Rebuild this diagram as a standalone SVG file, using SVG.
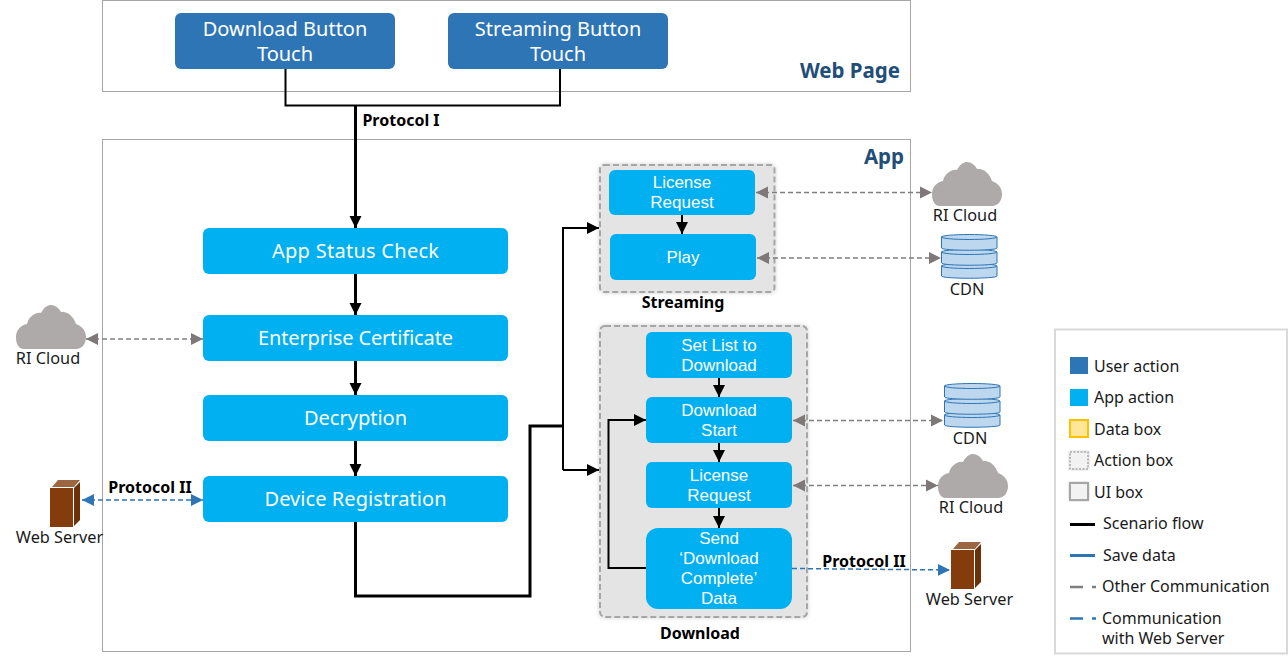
<svg xmlns="http://www.w3.org/2000/svg" width="1288" height="658" viewBox="0 0 1288 658">
<style>
text{font-family:"Noto Sans","Liberation Sans",sans-serif;text-anchor:middle}
.panel{fill:#fff;stroke:#a6a6a6;stroke-width:1}
.user{fill:#2e75b6}
.app{fill:#00b0f0}
.wt{fill:#fff;font-family:"Liberation Sans",sans-serif;font-size:17px}
.big{fill:#fff;font-size:20px}
.lab{fill:#1a1a1a;font-size:16.300px}
.bold{fill:#000;font-size:16px;font-weight:700}
.title{fill:#1f4e79;font-size:20.500px;font-weight:700}
.leg{fill:#1a1a1a;font-size:16px;text-anchor:start}
.group{fill:#e4e4e4;stroke:#a6a6a6;stroke-width:2;stroke-dasharray:6 3;filter:url(#sh)}
.flow{fill:none;stroke:#000;stroke-width:3}
.thin{fill:none;stroke:#000;stroke-width:2}
.other{fill:none;stroke:#7f7f7f;stroke-width:1.5;stroke-dasharray:5 3}
.web{fill:none;stroke:#2e75b6;stroke-width:1.5;stroke-dasharray:5 3}
</style>
<defs>
<filter id="sh" x="-10%" y="-10%" width="120%" height="120%"><feDropShadow dx="0" dy="0" stdDeviation="2" flood-color="#000" flood-opacity="0.2"/></filter>
<marker id="ab" markerUnits="userSpaceOnUse" markerWidth="14" markerHeight="14" refX="12" refY="7" orient="auto-start-reverse"><path d="M0 1L12 7L0 13Z" fill="#000"/></marker>
<marker id="as" markerUnits="userSpaceOnUse" markerWidth="14" markerHeight="14" refX="12" refY="7" orient="auto-start-reverse"><path d="M0 1L12 7L0 13Z" fill="#000"/></marker>
<marker id="ag" markerUnits="userSpaceOnUse" markerWidth="14" markerHeight="14" refX="12" refY="7" orient="auto-start-reverse"><path d="M0 1L12 7L0 13Z" fill="#7f7878"/></marker>
<marker id="abl" markerUnits="userSpaceOnUse" markerWidth="14" markerHeight="14" refX="12" refY="7" orient="auto-start-reverse"><path d="M0 1L12 7L0 13Z" fill="#2e75b6"/></marker>
<g id="cloud"><path fill="#aeaaaa" d="M8 44C2 44 0 38 0 32C0 25 5 20 11 19C13 11 20 7 25 8C28 2 32 0 35 0C39 0 43 3 45 7C52 6 58 12 60 19C66 21 70 26 70 32C70 39 66 44 60 44Z"/></g>
<g id="cdn" fill="#bdd7ee" stroke="#2e75b6" stroke-width="1">
<path d="M0.500 32V42C0.500 45 56 45 56 42V32Z"/><ellipse cx="28.200" cy="32" rx="27.800" ry="2.500"/>
<path d="M0.500 18V29C0.500 32 56 32 56 29V18Z"/><ellipse cx="28.200" cy="18" rx="27.800" ry="2.500"/>
<path d="M0.500 3V14C0.500 17 56 17 56 14V3Z"/><ellipse cx="28.200" cy="3" rx="27.800" ry="2.500"/>
</g>
<g id="server"><path fill="#843c0c" d="M0 8H23V47H0Z"/><path fill="#9c6640" d="M2 7L8 0H30L24 7Z"/><path fill="#6b3108" d="M24 8L30 2V40L24 46Z"/></g>
</defs>

<g id="web-page"><rect class="panel" x="102.500" y="0.500" width="808" height="91"/><text class="title" x="850" y="78">Web Page</text></g>
<g id="app-panel"><rect class="panel" x="102.500" y="139.500" width="808" height="512"/><text class="title" x="884" y="164">App</text></g>

<g id="btn-download"><rect class="user" x="175" y="13" width="220" height="56" rx="6"/><text class="big" y="36"><tspan x="285">Download Button</tspan><tspan x="285" dy="25">Touch</tspan></text></g>
<g id="btn-streaming"><rect class="user" x="448" y="13" width="220" height="56" rx="6"/><text class="big" y="36"><tspan x="558">Streaming Button</tspan><tspan x="558" dy="25">Touch</tspan></text></g>

<g id="streaming-group"><rect class="group" x="600" y="165" width="174.500" height="127" rx="4"/><text class="bold" x="683" y="308">Streaming</text></g>
<g id="download-group"><rect class="group" x="600" y="326" width="207" height="291" rx="5"/><text class="bold" x="700" y="639">Download</text></g>

<g id="connectors">
<path class="thin" d="M285.500 69V105.500H560V69"/>
<path class="flow" marker-end="url(#ab)" d="M355.500 105V228"/>
<path class="flow" marker-end="url(#ab)" d="M355.500 274V315"/>
<path class="flow" marker-end="url(#ab)" d="M355.500 361V395"/>
<path class="flow" marker-end="url(#ab)" d="M355.500 441V476"/>
<path class="flow" d="M355.500 522V596H530V426H563"/>
<path class="thin" marker-end="url(#as)" d="M563 470V228H599"/>
<path class="thin" marker-end="url(#as)" d="M563 470H599"/>
<path class="thin" marker-end="url(#as)" d="M682 215V234"/>
<path class="thin" marker-end="url(#as)" d="M719 378V397"/>
<path class="thin" marker-end="url(#as)" d="M719 443V462"/>
<path class="thin" marker-end="url(#as)" d="M719 508V528"/>
<path class="thin" marker-end="url(#as)" d="M646 568H608.500V420H646"/>
<path class="other" marker-start="url(#ag)" marker-end="url(#ag)" d="M756 192.500H932"/>
<path class="other" marker-start="url(#ag)" marker-end="url(#ag)" d="M757 258H941"/>
<path class="other" marker-start="url(#ag)" marker-end="url(#ag)" d="M793 420.500H943"/>
<path class="other" marker-start="url(#ag)" marker-end="url(#ag)" d="M793 485.500H938"/>
<path class="other" marker-start="url(#ag)" marker-end="url(#ag)" d="M86 339H203"/>
<path class="web" marker-start="url(#abl)" marker-end="url(#abl)" d="M82 500H203"/>
<path class="web" marker-end="url(#abl)" d="M792 568.500L950 570"/>
</g>
<text class="bold" x="401" y="126">Protocol I</text>
<text class="bold" x="150" y="493">Protocol II</text>
<text class="bold" x="864" y="567">Protocol II</text>

<g id="app-status"><rect class="app" x="203" y="228" width="305" height="46" rx="6"/><text class="big" x="355.500" y="258" textLength="167">App Status Check</text></g>
<g id="enterprise"><rect class="app" x="203" y="315" width="305" height="46" rx="6"/><text class="big" x="355.500" y="345" textLength="195">Enterprise Certificate</text></g>
<g id="decryption"><rect class="app" x="203" y="395" width="305" height="46" rx="6"/><text class="big" x="355.500" y="425">Decryption</text></g>
<g id="device-reg"><rect class="app" x="203" y="476" width="305" height="46" rx="6"/><text class="big" x="355.500" y="506" textLength="182">Device Registration</text></g>

<g id="s-license"><rect class="app" x="609" y="170" width="146" height="45" rx="6"/><text class="wt" y="188"><tspan x="682">License</tspan><tspan x="682" dy="20">Request</tspan></text></g>
<g id="s-play"><rect class="app" x="610" y="234" width="146" height="46" rx="6"/><text class="wt" x="683" y="263">Play</text></g>
<g id="d-setlist"><rect class="app" x="646" y="332" width="146" height="46" rx="6"/><text class="wt" y="351"><tspan x="719">Set List to</tspan><tspan x="719" dy="20">Download</tspan></text></g>
<g id="d-start"><rect class="app" x="646" y="397" width="146" height="46" rx="6"/><text class="wt" y="416"><tspan x="719">Download</tspan><tspan x="719" dy="20">Start</tspan></text></g>
<g id="d-license"><rect class="app" x="646" y="462" width="146" height="46" rx="6"/><text class="wt" y="481"><tspan x="719">License</tspan><tspan x="719" dy="20">Request</tspan></text></g>
<g id="d-send"><rect class="app" x="646" y="528" width="146" height="81" rx="12"/><text class="wt" y="544"><tspan x="719">Send</tspan><tspan x="719" dy="20">‘Download</tspan><tspan x="719" dy="20">Complete’</tspan><tspan x="719" dy="20">Data</tspan></text></g>

<g id="ri-cloud-1"><use href="#cloud" x="932" y="162"/><text class="lab" x="965" y="221">RI Cloud</text></g>
<g id="cdn-1"><use href="#cdn" x="941" y="234"/><text class="lab" x="967" y="295">CDN</text></g>
<g id="cdn-2"><use href="#cdn" x="944" y="383"/><text class="lab" x="970" y="444">CDN</text></g>
<g id="ri-cloud-2"><use href="#cloud" x="938" y="454"/><text class="lab" x="971" y="513">RI Cloud</text></g>
<g id="server-2"><use href="#server" x="951" y="542"/><text class="lab" x="969.500" y="605">Web Server</text></g>
<g id="ri-cloud-3"><use href="#cloud" x="16" y="305"/><text class="lab" x="48" y="364">RI Cloud</text></g>
<g id="server-1"><use href="#server" x="50" y="480"/><text class="lab" x="59.500" y="543">Web Server</text></g>

<g id="legend">
<rect x="1055" y="329.500" width="232" height="324" fill="#fff" stroke="#d9d9d9" stroke-width="2"/>
<rect class="user" x="1070" y="357" width="18" height="17"/><text class="leg" x="1094" y="372">User action</text>
<rect class="app" x="1070" y="389" width="18" height="17"/><text class="leg" x="1094" y="403">App action</text>
<rect x="1070" y="420" width="18" height="17" fill="#ffe699" stroke="#ffc000" stroke-width="2"/><text class="leg" x="1094" y="435">Data box</text>
<rect x="1070" y="452" width="18" height="17" fill="#f2f2f2" stroke="#a6a6a6" stroke-width="1.500" stroke-dasharray="2 1.500" filter="url(#sh)"/><text class="leg" x="1094" y="466">Action box</text>
<rect x="1070" y="483" width="18" height="17" fill="#f2f2f2" stroke="#a6a6a6" stroke-width="2" filter="url(#sh)"/><text class="leg" x="1094" y="498">UI box</text>
<path d="M1070 524.500H1095" stroke="#000" stroke-width="3"/><text class="leg" x="1103" y="529">Scenario flow</text>
<path d="M1070 555.500H1095" stroke="#2e75b6" stroke-width="3"/><text class="leg" x="1103" y="561">Save data</text>
<path d="M1070 587H1096" stroke="#7f7f7f" stroke-width="2.500" stroke-dasharray="13 9 4 9"/><text class="leg" x="1102" y="592">Other Communication</text>
<path d="M1070 618.500H1096" stroke="#2e75b6" stroke-width="2.500" stroke-dasharray="13 9 4 9"/><text class="leg" x="1102" y="624"><tspan x="1102">Communication</tspan><tspan x="1102" dy="20">with Web Server</tspan></text>
</g>
</svg>
